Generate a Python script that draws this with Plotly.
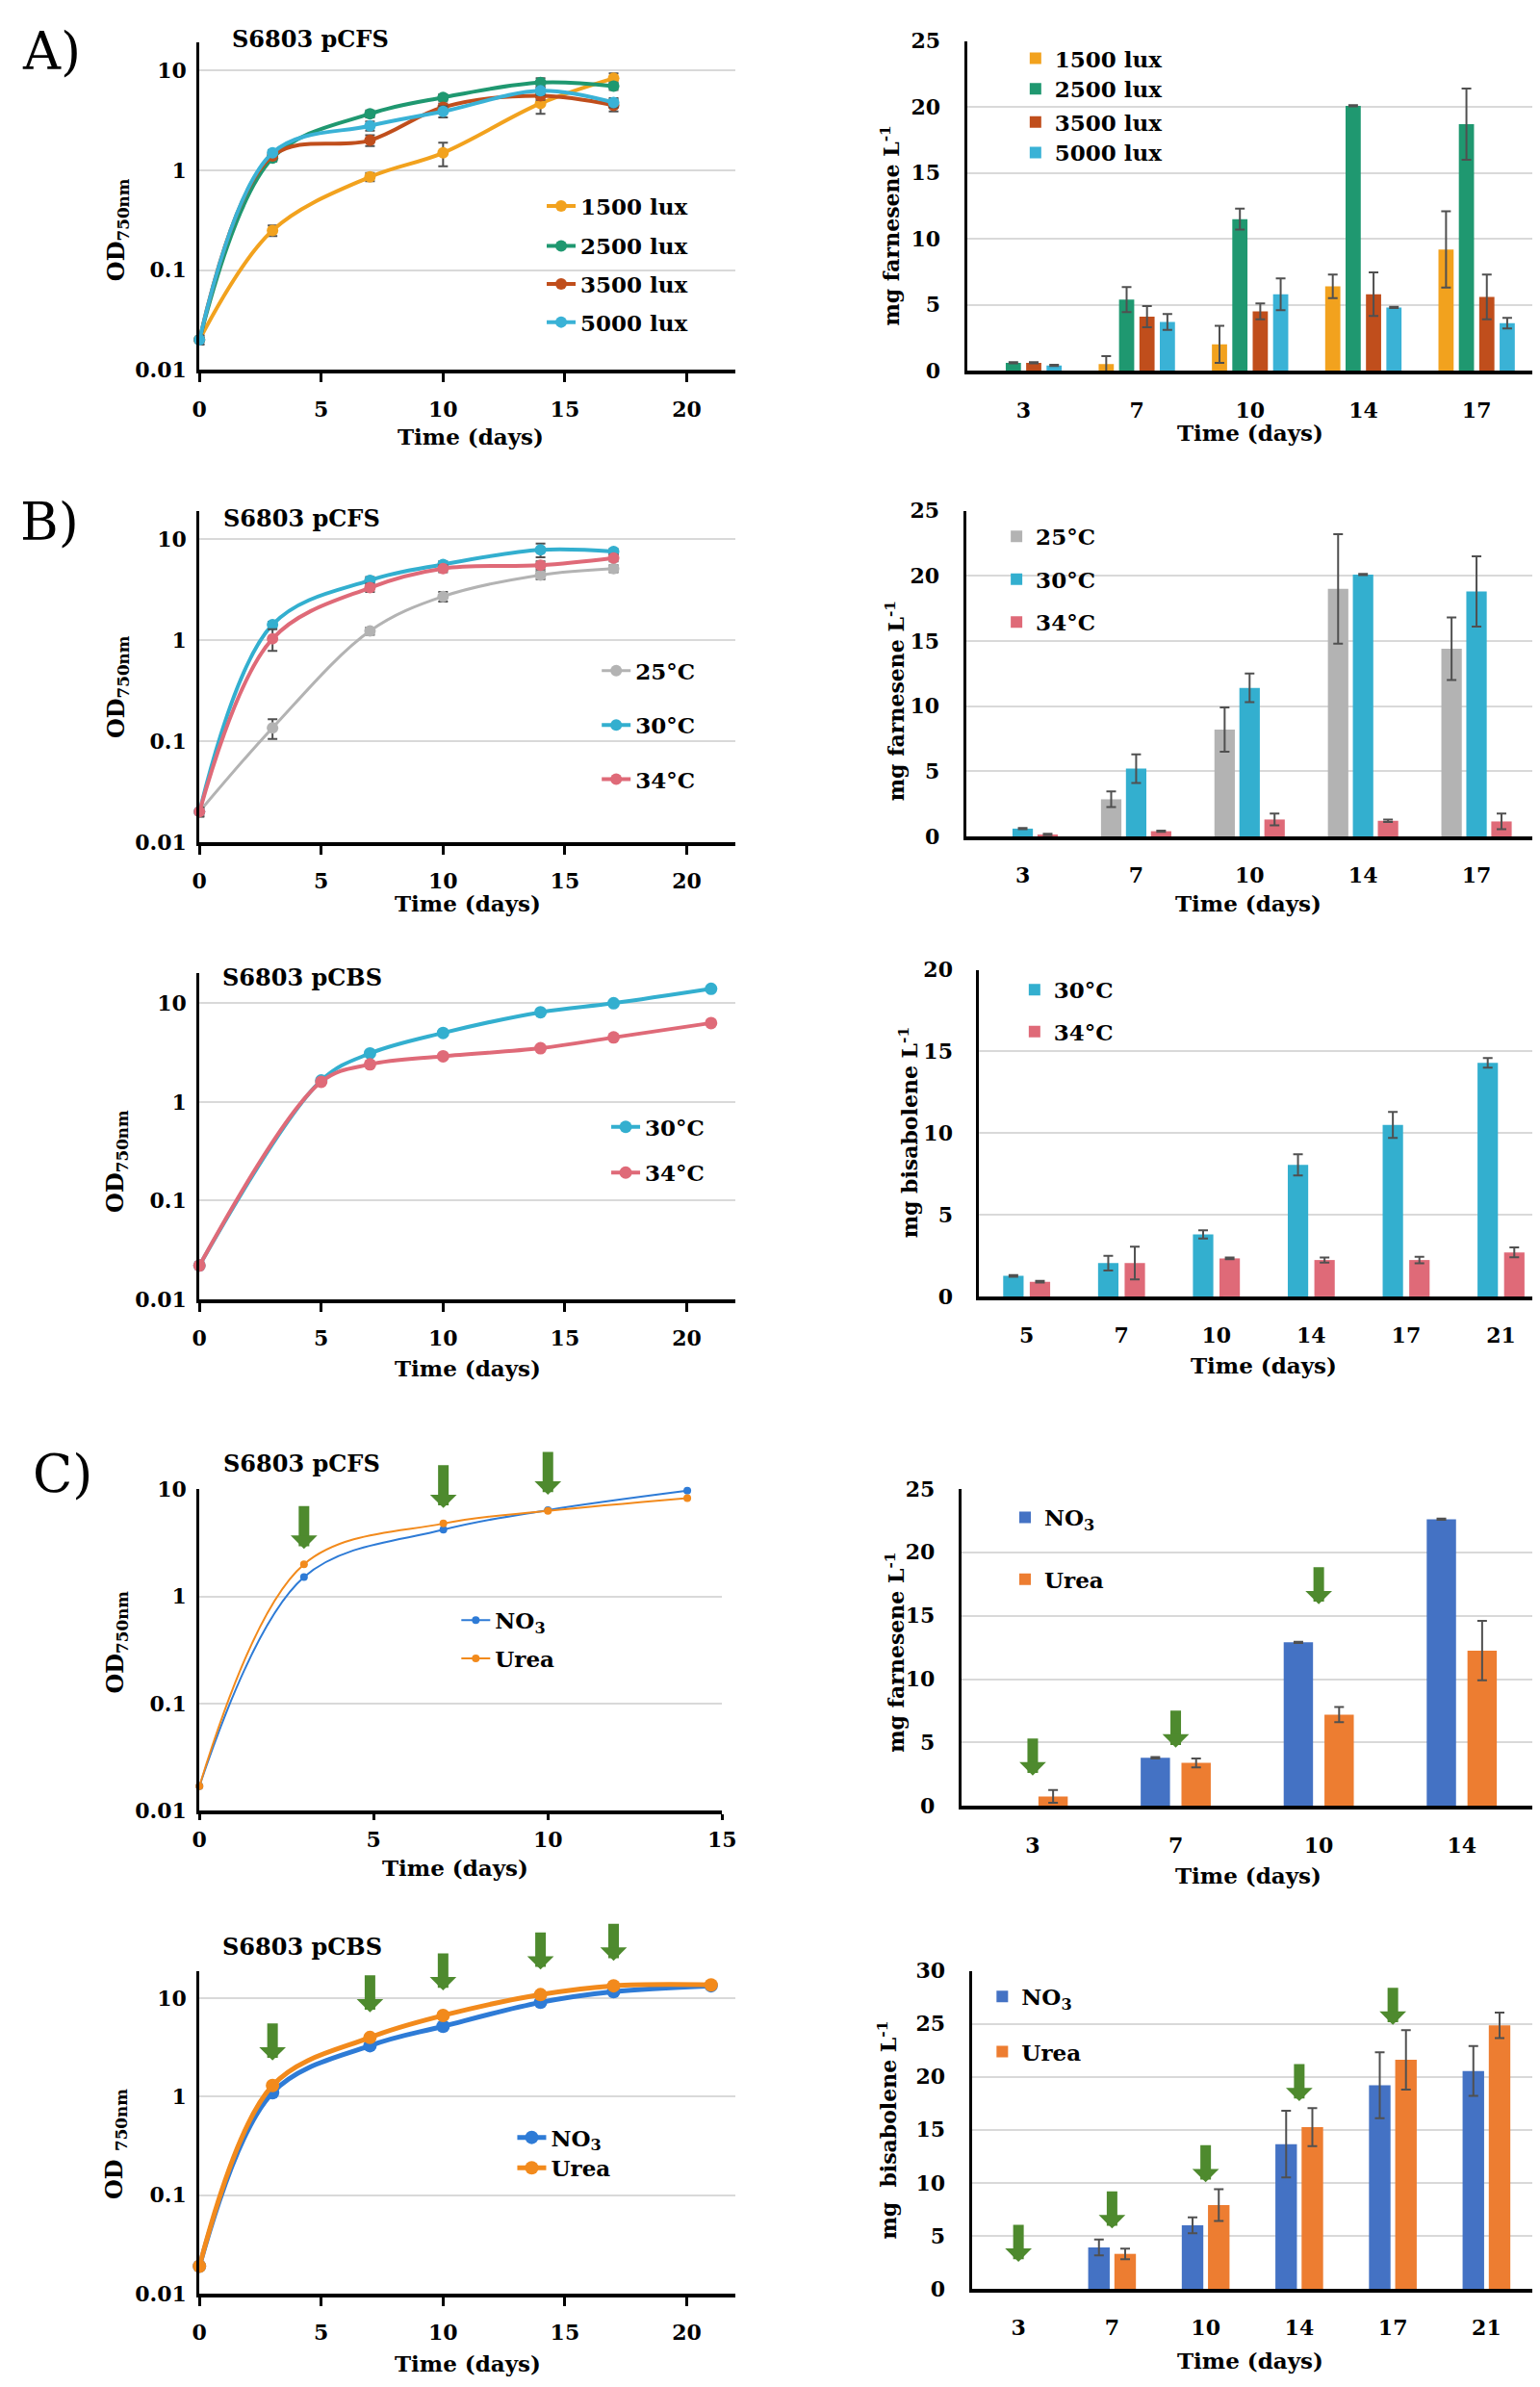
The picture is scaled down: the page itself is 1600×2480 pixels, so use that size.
import numpy as np
import plotly.graph_objects as go

W, H = 1600, 2480
FONT = "DejaVu Serif"

# ---------------- data ----------------
# A) light intensity, S6803 pCFS
days_a = [0, 3, 7, 10, 14, 17]
od_1500 = [0.02, 0.25, 0.86, 1.5, 4.7, 8.4]
od_1500_err = [0.002, 0.03, 0.08, 0.4, 1.0, 1.0]
od_2500 = [0.02, 1.33, 3.7, 5.4, 7.6, 7.0]
od_2500_err = [0.002, 0.1, 0.3, 0.4, 0.8, 0.6]
od_3500 = [0.02, 1.4, 2.0, 4.3, 5.6, 4.5]
od_3500_err = [0.002, 0.1, 0.25, 0.4, 0.5, 0.6]
od_5000 = [0.02, 1.5, 2.8, 3.9, 6.3, 4.8]
od_5000_err = [0.002, 0.1, 0.3, 0.5, 0.6, 0.5]

cats_a = ["3", "7", "10", "14", "17"]
far_1500 = [None, 0.5, 2.0, 6.4, 9.2]
far_1500_err = [0, 0.6, 1.4, 0.9, 2.9]
far_2500 = [0.6, 5.4, 11.5, 20.1, 18.7]
far_2500_err = [0.05, 0.95, 0.8, 0.05, 2.7]
far_3500 = [0.6, 4.1, 4.5, 5.8, 5.6]
far_3500_err = [0.05, 0.8, 0.6, 1.65, 1.7]
far_5000 = [0.4, 3.7, 5.8, 4.8, 3.6]
far_5000_err = [0.05, 0.6, 1.2, 0.05, 0.4]

# B) temperature, S6803 pCFS
days_b = [0, 3, 7, 10, 14, 17]
od_25 = [0.02, 0.135, 1.23, 2.7, 4.4, 5.1]
od_25_err = [0.002, 0.03, 0.1, 0.3, 0.4, 0.4]
od_30 = [0.02, 1.42, 3.9, 5.6, 7.8, 7.5]
od_30_err = [0.002, 0.1, 0.3, 0.4, 1.2, 0.5]
od_34 = [0.02, 1.03, 3.3, 5.1, 5.5, 6.5]
od_34_err = [0.002, 0.25, 0.3, 0.4, 0.5, 0.5]

cats_b = ["3", "7", "10", "14", "17"]
far_25 = [None, 2.85, 8.2, 19.0, 14.4]
far_25_err = [0, 0.6, 1.7, 4.2, 2.4]
far_30 = [0.6, 5.2, 11.4, 20.1, 18.8]
far_30_err = [0.05, 1.1, 1.1, 0.05, 2.7]
far_34 = [0.15, 0.4, 1.3, 1.2, 1.15]
far_34_err = [0.05, 0.05, 0.45, 0.1, 0.6]

# B) temperature, S6803 pCBS
days_b2 = [0, 5, 7, 10, 14, 17, 21]
odb_30 = [0.022, 1.65, 3.1, 5.0, 8.1, 10.0, 14.0]
odb_34 = [0.022, 1.6, 2.4, 2.9, 3.5, 4.5, 6.3]

cats_b2 = ["5", "7", "10", "14", "17", "21"]
bis_30 = [1.26, 2.04, 3.8, 8.06, 10.5, 14.3]
bis_30_err = [0.05, 0.45, 0.25, 0.65, 0.8, 0.3]
bis_34 = [0.9, 2.04, 2.33, 2.23, 2.23, 2.7]
bis_34_err = [0.05, 1.0, 0.05, 0.15, 0.2, 0.3]

# C) nitrogen source, S6803 pCFS
days_c1 = [0, 3, 7, 10, 14]
odc_no3 = [0.017, 1.52, 4.2, 6.4, 9.7]
odc_urea = [0.017, 2.0, 4.8, 6.3, 8.3]
arrow_days_c1 = [3, 7, 10]

cats_c1 = ["3", "7", "10", "14"]
farc_no3 = [None, 3.8, 12.9, 22.6]
farc_no3_err = [0, 0.05, 0.05, 0.05]
farc_urea = [0.75, 3.4, 7.2, 12.25]
farc_urea_err = [0.5, 0.35, 0.6, 2.35]
arrow_cats_c1 = ["3", "7", "10"]
arrow_lvls_c1 = [2.4, 4.6, 15.9]

# C) nitrogen source, S6803 pCBS
days_c2 = [0, 3, 7, 10, 14, 17, 21]
odc2_no3 = [0.019, 1.1, 3.3, 5.2, 9.1, 11.7, 13.4]
odc2_urea = [0.019, 1.3, 4.0, 6.7, 10.9, 13.4, 13.7]
arrow_days_c2 = [3, 7, 10, 14, 17]

cats_c2 = ["3", "7", "10", "14", "17", "21"]
bisc_no3 = [None, 3.9, 6.0, 13.65, 19.2, 20.55]
bisc_no3_err = [0, 0.75, 0.75, 3.15, 3.1, 2.35]
bisc_urea = [None, 3.3, 7.9, 15.25, 21.6, 24.85]
bisc_urea_err = [0, 0.5, 1.5, 1.8, 2.8, 1.2]
arrow_cats_c2 = ["3", "7", "10", "14", "17"]
arrow_lvls_c2 = [2.55, 5.7, 10.05, 17.7, 24.9]

# ---------------- colours ----------------
C1500, C2500, C3500, C5000 = "#F2A21E", "#1F9870", "#C04E1C", "#3AB2D6"
C25, C30, C34 = "#B3B3B3", "#33AFCF", "#DF6A78"
CNO3, CUREA = "#4472C4", "#ED7D31"
CNO3L, CUREAL = "#2E7BD6", "#F28A1C"
ARROW = "#4E8A2E"
GRID = "#D9D9D9"
ERR = "#505050"

fig = go.Figure()
legend_pos = []


def sfx(n):
    return "" if n == 1 else str(n)


def new_legend(text_left, yc):
    # every legend entry gets its own legend box (legend2, legend3, ...)
    legend_pos.append((text_left, yc))
    return f"legend{len(legend_pos) + 1}"


def line_panel(n, x0, x1, ytop, ybot, ytoplog, xmax, ticklen=9, standoff=9):
    fig.update_layout(**{
        f"xaxis{sfx(n)}": dict(
            domain=[x0 / W, x1 / W], anchor=f"y{sfx(n)}", range=[0, xmax],
            tickvals=list(range(0, xmax + 1, 5)), showline=True, linecolor="black",
            linewidth=4, ticks="outside", ticklen=ticklen, tickwidth=3, tickcolor="black",
            showgrid=False, zeroline=False, tickfont=dict(size=22),
            ticklabelstandoff=standoff),
        f"yaxis{sfx(n)}": dict(
            domain=[1 - ybot / H, 1 - ytop / H], anchor=f"x{sfx(n)}", type="log",
            range=[-2, ytoplog], tickvals=[0.01, 0.1, 1, 10],
            ticktext=["0.01", "0.1", "1", "10"], showline=True, linecolor="black",
            linewidth=3, gridcolor=GRID, gridwidth=2, zeroline=False,
            tickfont=dict(size=22), ticklabelstandoff=6),
    })


def bar_panel(n, x0, ytop, ybot, ymax, xhi):
    fig.update_layout(**{
        f"xaxis{sfx(n)}": dict(
            domain=[x0 / W, 1.0], anchor=f"y{sfx(n)}", type="category",
            range=[-0.5, xhi], showline=True, linecolor="black", linewidth=4,
            ticks="", showgrid=False, zeroline=False, tickfont=dict(size=22),
            ticklabelstandoff=18),
        f"yaxis{sfx(n)}": dict(
            domain=[1 - ybot / H, 1 - ytop / H], anchor=f"x{sfx(n)}",
            range=[0, ymax], dtick=5, showline=True, linecolor="black", linewidth=3,
            gridcolor=GRID, gridwidth=2, zeroline=False, tickfont=dict(size=22),
            ticklabelstandoff=20),
    })


def add_line(n, x, y, err, name, color, leg, width=4, size=12):
    fig.add_trace(go.Scatter(
        x=x, y=y, name=name, mode="lines+markers", xaxis=f"x{sfx(n)}", yaxis=f"y{sfx(n)}",
        line=dict(color=color, width=width, shape="spline"),
        marker=dict(color=color, size=size),
        error_y=dict(type="data", array=err, visible=err is not None, color=ERR,
                     thickness=2, width=5),
        legend=new_legend(*leg), showlegend=True, cliponaxis=False))


def add_bars(n, cats, series, width, step):
    k = len(series)
    for i, (name, vals, err, color, leg) in enumerate(series):
        off = (i - (k - 1) / 2) * step - width / 2
        fig.add_trace(go.Bar(
            x=cats, y=vals, name=name, xaxis=f"x{sfx(n)}", yaxis=f"y{sfx(n)}",
            marker=dict(color=color, line=dict(width=0)), width=width, offset=off,
            error_y=dict(type="data", array=err, color=ERR, thickness=2, width=5),
            legend=new_legend(*leg), showlegend=True))


# ---------------- panels ----------------
line_panel(1, 194, 759, 23, 367, 1.287, 22)
add_line(1, days_a, od_1500, od_1500_err, "1500 lux", C1500, (595, 195))
add_line(1, days_a, od_2500, od_2500_err, "2500 lux", C2500, (595, 237))
add_line(1, days_a, od_3500, od_3500_err, "3500 lux", C3500, (595, 277))
add_line(1, days_a, od_5000, od_5000_err, "5000 lux", C5000, (595, 317))

bar_panel(2, 1003, 22, 368, 25, 4.5)
add_bars(2, cats_a, [("1500 lux", far_1500, far_1500_err, C1500, (1095, 40)),
                     ("2500 lux", far_2500, far_2500_err, C2500, (1095, 72)),
                     ("3500 lux", far_3500, far_3500_err, C3500, (1095, 107)),
                     ("5000 lux", far_5000, far_5000_err, C5000, (1095, 139))],
         0.134, 0.18)

line_panel(3, 194, 759, 515, 863, 1.28, 22)
add_line(3, days_b, od_25, od_25_err, "25°C", C25, (653, 683), width=3)
add_line(3, days_b, od_30, od_30_err, "30°C", C30, (653, 740))
add_line(3, days_b, od_34, od_34_err, "34°C", C34, (653, 797))

bar_panel(4, 1002, 515, 857, 25, 4.5)
add_bars(4, cats_b, [("25°C", far_25, far_25_err, C25, (1075, 542)),
                     ("30°C", far_30, far_30_err, C30, (1075, 587)),
                     ("34°C", far_34, far_34_err, C34, (1075, 632))], 0.18, 0.22)

line_panel(5, 194, 759, 1000, 1343, 1.31, 22)
add_line(5, days_b2, odb_30, None, "30°C", C30, (663, 1162), size=13)
add_line(5, days_b2, odb_34, None, "34°C", C34, (663, 1210), size=13)

bar_panel(6, 1016, 997, 1340, 20, 5.34)
add_bars(6, cats_b2, [("30°C", bis_30, bis_30_err, C30, (1094, 1018)),
                      ("34°C", bis_34, bis_34_err, C34, (1094, 1062))], 0.215, 0.28)

line_panel(7, 194, 745, 1542, 1880, 1.005, 15, ticklen=6, standoff=1)
add_line(7, days_c1, odc_no3, None, "NO<sub>3</sub>", CNO3L, (505, 1680), width=2, size=8)
add_line(7, days_c1, odc_urea, None, "Urea", CUREAL, (505, 1720), width=2, size=8)

bar_panel(8, 997, 1542, 1875, 25, 3.5)
add_bars(8, cats_c1, [("NO<sub>3</sub>", farc_no3, farc_no3_err, CNO3, (1084, 1572)),
                      ("Urea", farc_urea, farc_urea_err, CUREA, (1084, 1637))],
         0.205, 0.285)

line_panel(9, 194, 759, 2048, 2387, 1.28, 22)
add_line(9, days_c2, odc2_no3, None, "NO<sub>3</sub>", CNO3L, (564, 2223), width=5, size=14)
add_line(9, days_c2, odc2_urea, None, "Urea", CUREAL, (564, 2255), width=5, size=14)

bar_panel(10, 1008, 2048, 2382, 30, 5.5)
add_bars(10, cats_c2, [("NO<sub>3</sub>", bisc_no3, bisc_no3_err, CNO3, (1060, 2075)),
                       ("Urea", bisc_urea, bisc_urea_err, CUREA, (1060, 2133))],
         0.23, 0.28)

# ---------------- legends (one per entry) ----------------
for k, (tx, ty) in enumerate(legend_pos, start=2):
    fig.update_layout(**{f"legend{k}": dict(
        x=(tx - 40) / W, y=1 - ty / H, xanchor="left", yanchor="middle",
        bgcolor="rgba(0,0,0,0)", font=dict(size=23), itemwidth=30,
        borderwidth=0)})

# ---------------- text ----------------
ann = []


def text(x, y, s, size=23, angle=0, weight="bold"):
    ann.append(dict(x=x / W, y=1 - y / H, xref="paper", yref="paper", text=s,
                    showarrow=False, textangle=angle, xanchor="center", yanchor="middle",
                    font=dict(size=size, weight=weight)))


text(38, 33, "A)", 54, weight="normal")
text(36, 527, "B)", 54, weight="normal")
text(50, 1527, "C)", 54, weight="normal")

text(311, 20, "S6803 pCFS", 24)
text(302, 523, "S6803 pCFS", 24)
text(302, 1005, "S6803 pCBS", 24)
text(302, 1515, "S6803 pCFS", 24)
text(302, 2023, "S6803 pCBS", 24)

for x, y in [(107, 220), (107, 700), (107, 1198), (107, 1703)]:
    text(x, y, "OD<sub>750nm</sub>", 24, -90)
text(105, 2230, "OD <sub>750nm</sub>", 24, -90)

text(922, 216, "mg farnesene L<sup>-1</sup>", 22, -90)
text(927, 715, "mg farnesene L<sup>-1</sup>", 22, -90)
text(941, 1168, "mg bisabolene L<sup>-1</sup>", 22, -90)
text(927, 1714, "mg farnesene L<sup>-1</sup>", 22, -90)
text(919, 2215, "mg&nbsp;&nbsp;bisabolene L<sup>-1</sup>", 22, -90)

for x, y in [(480, 437), (477, 927), (477, 1415), (464, 1940), (477, 2460),
             (1302, 433), (1300, 927), (1316, 1412), (1300, 1948), (1302, 2457)]:
    text(x, y, "Time (days)", 23)


# ---------------- arrows ----------------
def arrow(n, x, y, length, gap=0):
    ann.append(dict(x=x, y=y, xref=f"x{sfx(n)}", yref=f"y{sfx(n)}", text="",
                    showarrow=True, ax=0, ay=-(length + gap), arrowcolor=ARROW,
                    arrowwidth=11, arrowhead=1, arrowsize=0.42, standoff=gap))


for d in arrow_days_c1:
    i = days_c1.index(d)
    arrow(7, d, np.log10(max(odc_no3[i], odc_urea[i])), 46, 16)
for c, t in zip(arrow_cats_c1, arrow_lvls_c1):
    arrow(8, cats_c1.index(c), t, 40)
for d in arrow_days_c2:
    i = days_c2.index(d)
    arrow(9, d, np.log10(max(odc2_no3[i], odc2_urea[i])), 40, 26)
for c, t in zip(arrow_cats_c2, arrow_lvls_c2):
    arrow(10, cats_c2.index(c), t, 40)

fig.update_layout(
    annotations=ann,
    width=W, height=H,
    margin=dict(l=0, r=0, t=0, b=0),
    paper_bgcolor="white", plot_bgcolor="white",
    font=dict(family=FONT, color="black", size=22, weight="bold"),
    barmode="overlay", showlegend=True,
)

fig.write_html("out.html")
